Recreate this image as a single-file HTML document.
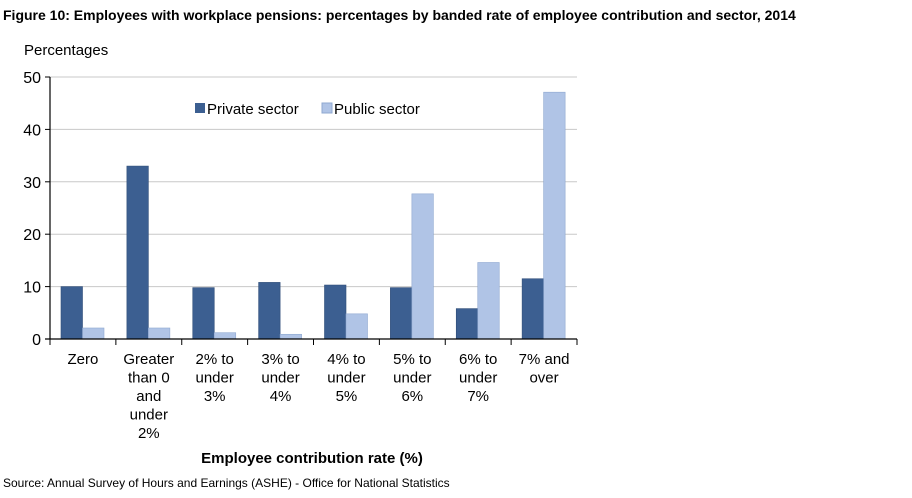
<!DOCTYPE html>
<html><head><meta charset="utf-8"><style>
body{margin:0;background:#fff;width:912px;height:493px;overflow:hidden;font-family:"Liberation Sans",Arial,sans-serif}
</style></head><body>
<svg id="c" width="912" height="493" font-family="Liberation Sans, Arial, sans-serif">
<text x="3" y="20" font-size="14" font-weight="bold" fill="#000">Figure 10: Employees with workplace pensions: percentages by banded rate of employee contribution and sector, 2014</text>
<text x="24" y="55" font-size="15">Percentages</text>
<text x="312" y="463" font-size="15" font-weight="bold" text-anchor="middle">Employee contribution rate (%)</text>
<text x="3" y="487" font-size="12">Source: Annual Survey of Hours and Earnings (ASHE) - Office for National Statistics</text>
<g id="grid"></g><g id="bars"></g><g id="axes"></g>
<g>
<rect x="195" y="103" width="10" height="10" fill="#3c5f91"/>
<text x="207" y="114" font-size="15">Private sector</text>
<rect x="322" y="103" width="10" height="10" fill="#b0c4e6" stroke="#8fa8d0"/>
<text x="334" y="114" font-size="15">Public sector</text>
</g>
</svg>
<script>
const categories=[["Zero"],["Greater","than 0","and","under","2%"],["2% to","under","3%"],["3% to","under","4%"],["4% to","under","5%"],["5% to","under","6%"],["6% to","under","7%"],["7% and","over"]];
const privateSector=[10,33,9.8,10.8,10.3,9.8,5.8,11.5];
const publicSector=[2.1,2.1,1.2,0.9,4.8,27.7,14.6,47.1];
const yTicks=[0,10,20,30,40,50];
const NS="http://www.w3.org/2000/svg";
const L=50,R=577,T=77,B=339,yMax=50;
const cw=(R-L)/categories.length;
const y=v=>B-(v/yMax)*(B-T);
const x=i=>L+i*cw;
function mk(t,a,p){const e=document.createElementNS(NS,t);for(const k in a)e.setAttribute(k,a[k]);p.appendChild(e);return e;}
const g=document.getElementById('grid'),b=document.getElementById('bars'),ax=document.getElementById('axes');
yTicks.forEach(v=>{
 if(v>0){const l=mk('line',{x1:L,x2:R,y1:y(v),y2:y(v),stroke:'#c8c8c8','stroke-width':1},g);
 
 }
 const t=mk('text',{x:L-9,y:y(v)+6,'font-size':16,'text-anchor':'end'},ax);t.textContent=v;
 
 
 const tk=mk('line',{x1:L-5,x2:L,y1:y(v),y2:y(v),stroke:'#000'},ax);
 
 
});
const bw=21.5,off=11;
categories.forEach((c,i)=>{
 const p=mk('rect',{x:x(i)+off,y:y(privateSector[i]),width:bw,height:B-y(privateSector[i]),fill:'#3c5f91',stroke:'#2f4d78','stroke-width':0.6},b);
 
 
 const q=mk('rect',{x:x(i)+off+bw,y:y(publicSector[i]),width:bw,height:B-y(publicSector[i]),fill:'#b0c4e6',stroke:'#8fa8d0','stroke-width':0.6},b);
 
 
 const tk=mk('line',{x1:x(i),x2:x(i),y1:B,y2:B+6,stroke:'#000'},ax);
 
 
 const t=mk('text',{'font-size':15,'text-anchor':'middle'},ax);
 
 
 c.forEach((s,j)=>{const ts=mk('tspan',{x:x(i)+cw/2,y:364+j*18.5},t);ts.textContent=s;});
});
const tk=mk('line',{x1:R,x2:R,y1:B,y2:B+6,stroke:'#000'},ax);


const ya=mk('line',{x1:L,x2:L,y1:T,y2:B,stroke:'#000','stroke-width':1.2},ax);


const xa=mk('line',{x1:L-5,x2:R,y1:B,y2:B,stroke:'#000','stroke-width':1.2},ax);


</script>
</body></html>
